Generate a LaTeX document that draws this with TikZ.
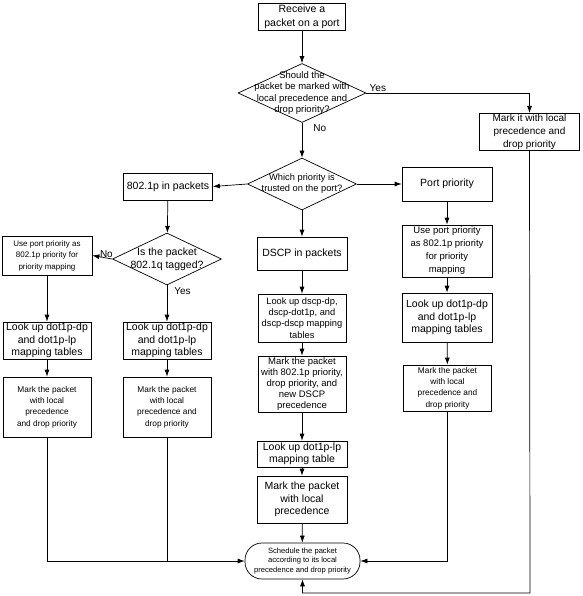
\documentclass[tikz,border=0pt]{standalone}
\usepackage{fontspec}
\setmainfont{Liberation Sans}
\usepackage{tikz}
\usetikzlibrary{shapes.geometric,shapes.misc,calc,positioning,arrows.meta}
\newcommand{\fsz}[2]{\fontsize{#1}{#2}\selectfont}
\tikzset{
  procbox/.style={rectangle,draw,align=center,inner sep=1pt},
  decision/.style={diamond,draw,inner sep=0pt},
  dtext/.style={align=center,inner sep=0pt},
  terminal/.style={rectangle,rounded corners=17pt,draw,align=center,inner sep=0pt},
  arr/.style={-{Latex[length=7pt,width=5pt]}},
  yesno/.style={inner sep=1pt,font=\fsz{10}{12}}
}
\begin{document}
\begin{tikzpicture}[x=1pt,y=-1pt,line width=0.7pt]
\useasboundingbox (0,0) rectangle (582,596);
% top of the chart
\node (recv) [procbox,minimum width=87pt,minimum height=27pt,font=\fsz{10.5}{14}] at (302,16.5) {Receive a\\packet on a port};
\node (markq) [decision,minimum width=128pt,minimum height=59pt] at (302,93) {};
\node (markqtext) [dtext,font=\fsz{9.5}{11.5}] at (markq) {Should the\\packet be marked with\\local precedence and\\drop priority?};
\node (markit) [procbox,minimum width=100pt,minimum height=36pt,font=\fsz{10}{13}] at (529.5,132) {Mark it with local\\precedence and\\drop priority};
\node (trust) [decision,minimum width=109pt,minimum height=52pt] at (302,184) {};
\node (trusttext) [dtext,font=\fsz{9.3}{11}] at (trust) {Which priority is\\trusted on the port?};
% three branches
\node (dotp) [procbox,minimum width=89pt,minimum height=27pt,font=\fsz{10.5}{13}] at (168,186.5) {802.1p in packets};
\node (dscp) [procbox,minimum width=90pt,minimum height=33pt,font=\fsz{10.5}{13}] at (302,253.5) {DSCP in packets};
\node (portp) [procbox,minimum width=90pt,minimum height=34pt,font=\fsz{10.5}{13}] at (447,184) {Port priority};
% 802.1p branch
\node (tagged) [decision,minimum width=109pt,minimum height=52pt] at (167,259) {};
\node (taggedtext) [dtext,font=\fsz{10.5}{13}] at (tagged) {Is the packet\\802.1q tagged?};
\node (useportL) [procbox,minimum width=90pt,minimum height=39pt,font=\fsz{8}{11.5}] at (47,255.5) {Use port priority as\\802.1p priority for\\priority mapping};
\node (lookL1) [procbox,minimum width=88pt,minimum height=37pt,font=\fsz{10.5}{12.5}] at (47,340.5) {Look up dot1p-dp\\and dot1p-lp\\mapping tables};
\node (lookL2) [procbox,minimum width=88pt,minimum height=37pt,font=\fsz{10.5}{12.5}] at (167,340.5) {Look up dot1p-dp\\and dot1p-lp\\mapping tables};
\node (markL1) [procbox,minimum width=88pt,minimum height=60pt,font=\fsz{8.3}{11.3}] at (47,407) {Mark the packet\\with local\\precedence\\and drop priority};
\node (markL2) [procbox,minimum width=88pt,minimum height=60pt,font=\fsz{8.3}{11.3}] at (167,407) {Mark the packet\\with local\\precedence and\\drop priority};
% DSCP branch
\node (lookdscp) [procbox,minimum width=88pt,minimum height=48pt,font=\fsz{9.3}{11.3}] at (302,318) {Look up dscp-dp,\\dscp-dot1p, and\\dscp-dscp mapping\\tables};
\node (markdscp) [procbox,minimum width=88pt,minimum height=56pt,font=\fsz{9.5}{11}] at (302,384) {Mark the packet\\with 802.1p priority,\\drop priority, and\\new DSCP\\precedence};
\node (lookdot) [procbox,minimum width=90pt,minimum height=26pt,font=\fsz{10.5}{12.5}] at (302,454) {Look up dot1p-lp\\mapping table};
\node (marklocal) [procbox,minimum width=90pt,minimum height=47pt,font=\fsz{10.5}{12.5}] at (302,499.5) {Mark the packet\\with local\\precedence};
% port priority branch
\node (useportR) [procbox,minimum width=90pt,minimum height=52pt,font=\fsz{9.5}{13}] at (447,251) {Use port priority\\as 802.1p priority\\for priority\\mapping};
\node (lookR) [procbox,minimum width=90pt,minimum height=49pt,font=\fsz{10.5}{12.5}] at (447,317.5) {Look up dot1p-dp\\and dot1p-lp\\mapping tables};
\node (markR) [procbox,minimum width=88pt,minimum height=46pt,font=\fsz{8.3}{11.3}] at (447.5,388) {Mark the packet\\with local\\precedence and\\drop priority};
% end
\node (sched) [terminal,minimum width=115pt,minimum height=36pt,font=\fsz{7.6}{9.5}] at (302.5,561) {Schedule the packet\\according to its local\\precedence and drop priority};
\coordinate (loopback) at (530,593);
% connectors
\draw[arr] (recv) -- (markq);
\draw[arr] (markq.east) -| node[yesno,anchor=south west,pos=0,xshift=2pt] {Yes} (markit.north);
\draw[arr] (markq.south) -- node[yesno,anchor=north west,pos=0,xshift=10pt] {No} (trust.north);
\draw[arr] (trust.west) -- (dotp.east);
\draw[arr] (trust.east) -- (portp.west);
\draw[arr] (trust.south) -- (dscp.north);
\draw[arr] (dotp) -- (tagged);
\draw[arr] (tagged.west) -- node[yesno,anchor=south east,pos=0,xshift=2pt] {No} (useportL.east);
\draw[arr] (tagged.south) -- node[yesno,anchor=north west,pos=0,xshift=6pt,yshift=-1pt] {Yes} (lookL2.north);
\draw[arr] (useportL) -- (lookL1);
\draw[arr] (lookL1) -- (markL1);
\draw[arr] (lookL2) -- (markL2);
\draw[arr] (markL1.south) |- (sched.west);
\draw (markL2.south) -- (markL2.south |- sched.west);
\draw[arr] (dscp) -- (lookdscp);
\draw[arr] (lookdscp) -- (markdscp);
\draw[arr] (markdscp) -- (lookdot);
\draw[arr] (lookdot) -- (marklocal);
\draw[arr] (marklocal) -- (sched);
\draw[arr] (portp) -- (useportR);
\draw[arr] (useportR) -- (lookR);
\draw[arr] (lookR) -- (markR);
\draw[arr] (markR.south) |- (sched.east);
\draw[arr] (markit.south) -- (loopback) -| (sched.south);
\end{tikzpicture}
\end{document}
